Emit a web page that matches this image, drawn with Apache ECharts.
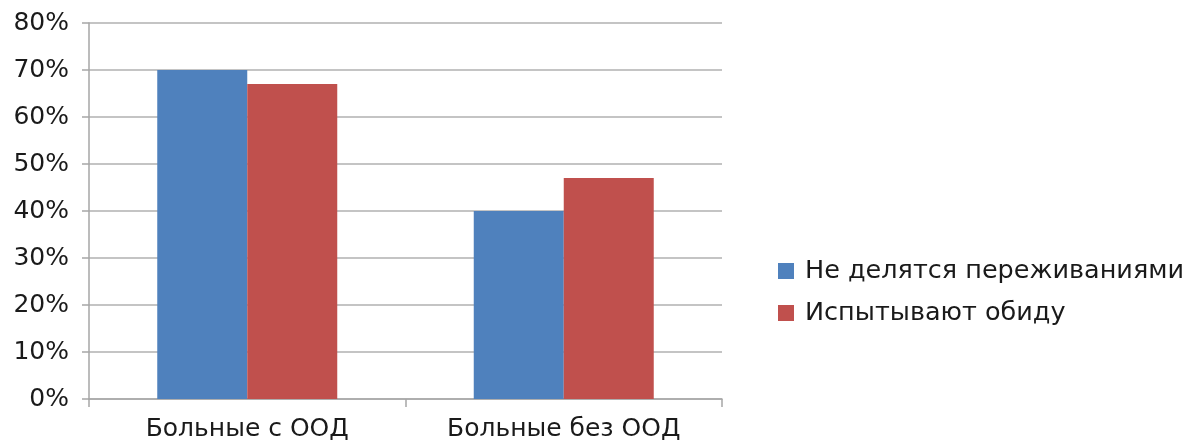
<!DOCTYPE html>
<html><head><meta charset="utf-8">
<script src="https://cdn.jsdelivr.net/npm/echarts@6/dist/echarts.min.js"></script>
<style>html,body{margin:0;padding:0;background:#fff}#c{width:1196px;height:446px}</style>
</head><body><div id="c"></div>
<script>
const categories = ["Больные с ООД", "Больные без ООД"];
const seriesNames = ["Не делятся переживаниями", "Испытывают обиду"];
const notSharing = [70, 40];
const resentment = [67, 47];
const yTicks = [0, 10, 20, 30, 40, 50, 60, 70, 80];

const chart = echarts.init(document.getElementById('c'), null, {renderer: 'canvas'});
const font = 'DejaVu Sans, Verdana, sans-serif';
chart.setOption({
  animation: false,
  backgroundColor: '#fff',
  grid: {left: 89, right: 474, top: 23, bottom: 47, containLabel: false},
  legend: {
    orient: 'vertical', left: 773, top: 253,
    itemWidth: 16, itemHeight: 16, itemGap: 16,
    icon: 'rect',
    textStyle: {fontFamily: font, fontSize: 25.5, color: '#1a1a1a', padding: [0,0,0,6]},
    data: seriesNames
  },
  xAxis: {
    type: 'category', data: categories,
    axisLine: {lineStyle: {color: '#a6a6a6', width: 1.5}},
    axisTick: {show: true, alignWithLabel: false, length: 8, lineStyle: {color: '#a6a6a6', width: 1.5}},
    axisLabel: {fontFamily: font, fontSize: 25, color: '#1a1a1a', margin: 18}
  },
  yAxis: {
    type: 'value', min: yTicks[0], max: yTicks[yTicks.length-1], interval: 10,
    axisLine: {show: true, lineStyle: {color: '#a6a6a6', width: 1.5}},
    axisTick: {show: true, length: 7, lineStyle: {color: '#a6a6a6', width: 1.5}},
    splitLine: {lineStyle: {color: '#b0b0b0', width: 1.5}},
    axisLabel: {fontFamily: font, fontSize: 25, color: '#1a1a1a', margin: 20, formatter: v => v + '%'}
  },
  series: [
    {name: seriesNames[0], type: 'bar', data: notSharing, barWidth: 90, barGap: '0%',
     itemStyle: {color: '#4F81BD'}},
    {name: seriesNames[1], type: 'bar', data: resentment, barWidth: 90, barGap: '0%',
     itemStyle: {color: '#C0504D'}}
  ]
});
</script></body></html>
